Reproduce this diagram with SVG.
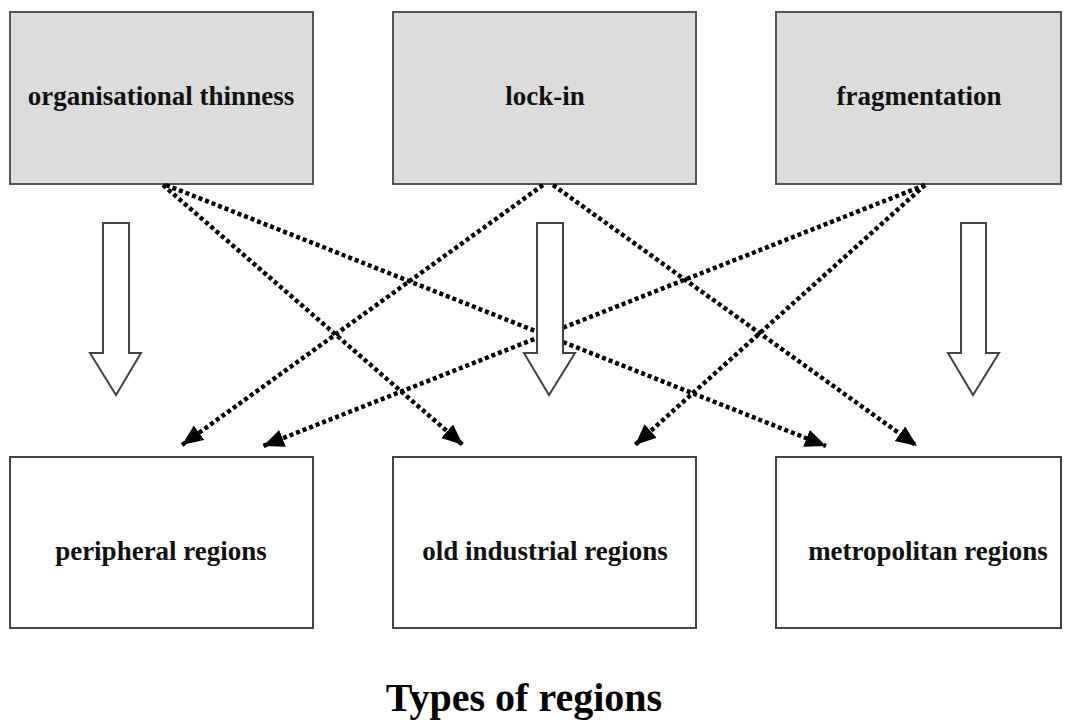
<svg xmlns="http://www.w3.org/2000/svg" width="1072" height="723" viewBox="0 0 1072 723">
<style>
.top{fill:#dcdcdc;stroke:#555;stroke-width:2}
.bot{fill:#fff;stroke:#444;stroke-width:2}
.lbl{font-family:"Liberation Serif","Times New Roman",serif;font-weight:bold;font-size:27px;fill:#111;text-anchor:middle}
.title{font-family:"Liberation Serif","Times New Roman",serif;font-weight:bold;font-size:40px;fill:#000;text-anchor:middle}
.hollow{fill:#fff;stroke:#444;stroke-width:2}
.dot{fill:none;stroke:#000;stroke-width:4.5;stroke-dasharray:4 3;marker-end:url(#ah)}
</style>
<defs>
<marker id="ah" markerUnits="userSpaceOnUse" markerWidth="22" markerHeight="20" refX="21" refY="9" orient="auto">
<path d="M0,0 L21,9 L0,18 Z" fill="#000"/>
</marker>
</defs>
<rect width="1072" height="723" fill="#fff"/>
<g id="org-thinness"><rect class="top" x="10" y="12" width="303" height="172"/><text class="lbl" x="161" y="105">organisational thinness</text></g>
<g id="lock-in"><rect class="top" x="393" y="12" width="303" height="172"/><text class="lbl" x="545" y="105">lock-in</text></g>
<g id="fragmentation"><rect class="top" x="776" y="12" width="285" height="172"/><text class="lbl" x="919" y="105">fragmentation</text></g>
<g id="peripheral"><rect class="bot" x="10" y="457" width="303" height="171"/><text class="lbl" x="161" y="560">peripheral regions</text></g>
<g id="old-industrial"><rect class="bot" x="393" y="457" width="303" height="171"/><text class="lbl" x="545" y="560">old industrial regions</text></g>
<g id="metropolitan"><rect class="bot" x="776" y="457" width="285" height="171"/><text class="lbl" x="928" y="560">metropolitan regions</text></g>
<g id="connectors">
<line class="dot" x1="163" y1="185" x2="463" y2="445"/>
<line class="dot" x1="166" y1="185" x2="826" y2="446"/>
<line class="dot" x1="543" y1="185" x2="182" y2="445"/>
<line class="dot" x1="553" y1="185" x2="917" y2="446"/>
<line class="dot" x1="925" y1="185" x2="263" y2="446"/>
<line class="dot" x1="925" y1="185" x2="635" y2="445"/>
</g>
<g id="hollow-arrows">
<path class="hollow" d="M103,223 L129,223 L129,353 L141,353 L116,395 L90,353 L103,353 Z"/>
<path class="hollow" d="M537,223 L563,223 L563,353 L575,353 L549,395 L524,353 L537,353 Z"/>
<path class="hollow" d="M961,223 L986,223 L986,353 L999,353 L973,395 L948,353 L961,353 Z"/>
</g>
<text class="title" x="524" y="711">Types of regions</text>
</svg>
